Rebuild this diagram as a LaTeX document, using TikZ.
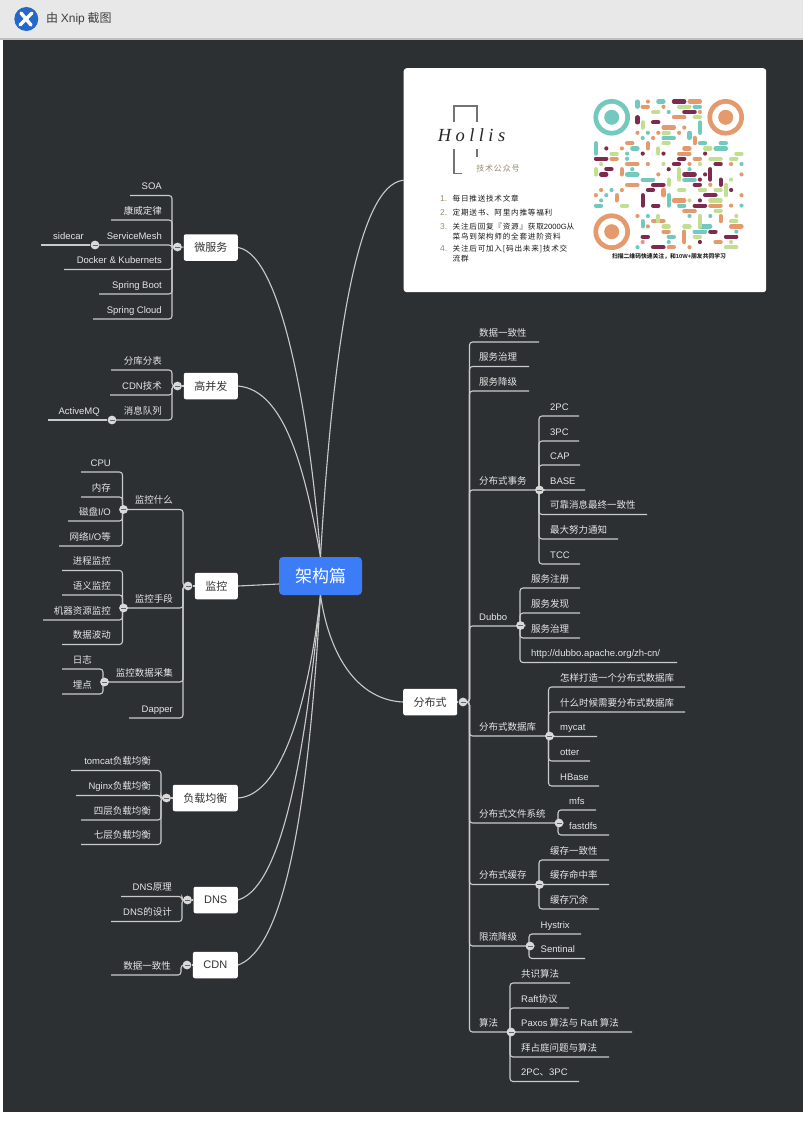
\documentclass[tikz,border=0pt]{standalone}
\usepackage{fontspec}
\setmainfont{Noto Sans CJK SC}
\newfontfamily\latfont{Liberation Sans}
\newfontfamily\logofont[LetterSpace=24]{Liberation Serif}
\newfontfamily\cardfont[LetterSpace=10]{Noto Sans CJK SC}
\newcommand{\la}[1]{{\latfont #1}}
\definecolor{boardbg}{HTML}{2D3033}
\definecolor{barbg}{HTML}{E8E8E8}
\definecolor{linkgray}{HTML}{C9CACA}
\definecolor{hubblue}{HTML}{3C7DF7}
\definecolor{xnipblue}{HTML}{2468CC}
\definecolor{qrteal}{HTML}{74C9BE}
\definecolor{qrorange}{HTML}{E59A6E}
\definecolor{qrmaroon}{HTML}{7D2A4E}
\definecolor{qrlime}{HTML}{C2DE92}
\definecolor{logotan}{HTML}{9A8A70}
\pgfdeclarelayer{back}
\pgfdeclarelayer{links}
\pgfsetlayers{back,links,main}
\tikzset{
  link/.style={draw=linkgray,line width=1.1pt,rounded corners=3pt},
  curvelink/.style={draw=linkgray,line width=1.1pt},
  topicbox/.style={fill=white,rounded corners=2pt,text=black!80,font=\fontsize{11}{13}\selectfont,
    minimum height=26.5pt,inner xsep=10.5pt,inner ysep=0pt},
  hubbox/.style={fill=hubblue,rounded corners=4pt,text=white,font=\fontsize{17}{20}\selectfont,
    minimum width=83pt,minimum height=38pt},
  cardbox/.style={fill=white,rounded corners=3pt,anchor=north west,minimum width=362.5pt,minimum height=224pt},
  leaf/.style={text=white!90!black,inner sep=0pt,font=\fontsize{9.5}{11}\selectfont},
  dotnode/.style={circle,fill=white!85!black,inner sep=0pt,minimum size=8.8pt,
    font=\fontsize{5}{5}\selectfont},
  carditem/.style={inner sep=0pt,anchor=base west,text=black!90,font=\cardfont\fontsize{7.6}{10}\selectfont},
  cardnum/.style={inner sep=0pt,anchor=base west,text=logotan,font=\latfont\fontsize{8.5}{10}\selectfont},
  logoline/.style={draw=black!55,line width=1.2pt},
  qrt/.style={draw=qrteal,line width=4.2pt,line cap=round},
  qro/.style={draw=qrorange,line width=4.2pt,line cap=round},
  qrm/.style={draw=qrmaroon,line width=4.2pt,line cap=round},
  qrl/.style={draw=qrlime,line width=4.2pt,line cap=round}
}
\newcommand{\minus}{\textcolor{black!60}{\rule{5pt}{1pt}}}
\newcommand{\leavesL}[5]{%
  \foreach \ly/\lx/\lab [count=\i] in {#5} {
    \node[leaf,anchor=base east] (#1\i) at (#4,\ly-6) {\lab};
    \coordinate (#1e\i) at (\lx,\ly);
    \begin{pgfonlayer}{links}
      \draw[link] (#2.center) -| (#3,\ly) -- (#1e\i);
    \end{pgfonlayer}
  }}
\newcommand{\leavesR}[5]{%
  \foreach \ly/\lx/\lab [count=\i] in {#5} {
    \node[leaf,anchor=base west] (#1\i) at (#4,\ly-6) {\lab};
    \coordinate (#1e\i) at (\lx,\ly);
    \begin{pgfonlayer}{links}
      \draw[link] (#2.center) -| (#3,\ly) -- (#1e\i);
    \end{pgfonlayer}
  }}
\newcommand{\qrh}[2]{\foreach \c/\r/\n in {#2} \draw[#1] (\c+.5,\r+.5) -- ++(\n,0);}
\newcommand{\qrv}[2]{\foreach \c/\r/\n in {#2} \draw[#1] (\c+.5,\r+.5) -- ++(0,\n);}
\newcommand{\qrd}[2]{\foreach \c/\r in {#2} \fill[#1] (\c+.5,\r+.5) circle (2.1pt);}
\begin{document}
\begin{tikzpicture}[x=1pt,y=-1pt]
\useasboundingbox (0,0) rectangle (803,1145);
\begin{pgfonlayer}{back}
\fill[white] (0,0) rectangle (803,1145);
\fill[barbg] (0,0) rectangle (803,38);
\fill[black!25] (0,38) rectangle (803,40);
\fill[boardbg] (3,40) rectangle (803,1112);
\fill[xnipblue] (26.3,19) circle (12pt);
\draw[white,line width=3.4pt,line cap=round] (21,13) -- (31,25);
\draw[white,line width=3.4pt,line cap=round] (32,13) -- (20,25);
\end{pgfonlayer}
\node[inner sep=0pt,anchor=west,text=black!75,font=\fontsize{12}{14}\selectfont] (bartitle) at (46,19) {由 \la{Xnip} 截图};

\node[hubbox] (hub) at (320.5,576) {架构篇};
\node[topicbox,anchor=east] (wei) at (238,247.5) {微服务};
\node[topicbox,anchor=east] (gao) at (238,386) {高并发};
\node[topicbox,anchor=east] (jian) at (238,586) {监控};
\node[topicbox,anchor=east] (fuzai) at (238,798) {负载均衡};
\node[topicbox,anchor=east] (dns) at (238,900) {\la{DNS}};
\node[topicbox,anchor=east] (cdn) at (238,965) {\la{CDN}};
\node[topicbox,anchor=west] (fen) at (403,702) {分布式};
\node[cardbox] (card) at (403.5,68) {};

\begin{pgfonlayer}{links}
\draw[curvelink] (wei.east) .. controls (285,255) and (312,440) .. (hub.north);
\draw[curvelink] (gao.east) .. controls (285,390) and (305,470) .. (hub.north);
\draw[curvelink] (card.west) .. controls (355,185) and (332,360) .. (hub.north);
\draw[curvelink] (jian.east) -- ([yshift=-8pt]hub.west);
\draw[curvelink] (fuzai.east) .. controls (285,795) and (310,690) .. (hub.south);
\draw[curvelink] (dns.east) .. controls (290,885) and (310,700) .. (hub.south);
\draw[curvelink] (cdn.east) .. controls (295,945) and (312,740) .. (hub.south);
\draw[curvelink] (fen.west) .. controls (360,700) and (330,660) .. (hub.south);
\end{pgfonlayer}

\node[dotnode] (weidot) at (177.5,247) {\minus};
\node[dotnode] (gaodot) at (177.5,386) {\minus};
\node[dotnode] (jiandot) at (188,586) {\minus};
\node[dotnode] (fuzaidot) at (166.5,798) {\minus};
\node[dotnode] (dnsdot) at (187.5,900) {\minus};
\node[dotnode] (cdndot) at (187,965) {\minus};
\node[dotnode] (fendot) at (463,702) {\minus};
\node[dotnode] (meshdot) at (95,245) {\minus};
\node[dotnode] (mqdot) at (112,420) {\minus};
\node[dotnode] (whatdot) at (123.5,509.5) {\minus};
\node[dotnode] (howdot) at (123.5,608) {\minus};
\node[dotnode] (caijidot) at (104.5,682) {\minus};
\node[dotnode] (txdot) at (539.5,490) {\minus};
\node[dotnode] (dubbodot) at (520.5,625.5) {\minus};
\node[dotnode] (dbdot) at (549.5,736) {\minus};
\node[dotnode] (fsdot) at (559,823) {\minus};
\node[dotnode] (cachedot) at (539.5,884.5) {\minus};
\node[dotnode] (limitdot) at (530,946) {\minus};
\node[dotnode] (algodot) at (511,1032) {\minus};

\begin{pgfonlayer}{links}
\foreach \boxname in {wei,gao,jian,fuzai,dns,cdn,fen}
  \draw[curvelink] (\boxname) -- (\boxname dot);
\end{pgfonlayer}

\leavesL{wl}{weidot}{172}{162}{195.5/130/{\la{SOA}},220/111/康威定律,245/95/{\la{ServiceMesh}},
  269.5/64/{\la{Docker \& Kubernets}},294/99/{\la{Spring Boot}},319/93/{\la{Spring Cloud}}}
\leavesL{gl}{gaodot}{172}{162}{370/111/分库分表,395/110/{\la{CDN}技术},420/112/消息队列}
\leavesL{jl}{jiandot}{183}{173}{509.5/123.5/监控什么,608/123.5/监控手段,682/104.5/监控数据采集,718/129/{\la{Dapper}}}
\leavesL{wh}{whatdot}{122.5}{111}{472/81/{\la{CPU}},497/81/内存,521/68/{磁盘\la{I/O}},546/59/{网络\la{I/O}等}}
\leavesL{ho}{howdot}{122.5}{111}{570.5/62/进程监控,595/62/语义监控,620/43/机器资源监控,644.5/62/数据波动}
\leavesL{cj}{caijidot}{103}{92}{669/62/日志,694/62/埋点}
\leavesL{fz}{fuzaidot}{161}{151}{770.5/71/{\la{tomcat}负载均衡},795.5/76/{\la{Nginx}负载均衡},820/81/四层负载均衡,844.5/81/七层负载均衡}
\leavesL{dn}{dnsdot}{182}{172}{896.5/121/{\la{DNS}原理},921.5/111/{\la{DNS}的设计}}
\leavesL{cd}{cdndot}{181}{171}{975/111/数据一致性}

\node[leaf,anchor=base east] (sidecar) at (84,239) {\la{sidecar}};
\coordinate (sidecare) at (41,245);
\node[leaf,anchor=base east] (activemq) at (100,414) {\la{ActiveMQ}};
\coordinate (activemqe) at (48,420);
\begin{pgfonlayer}{links}
\draw[link] (meshdot) -- (sidecare);
\draw[link] (mqdot) -- (activemqe);
\end{pgfonlayer}

\leavesR{fl}{fendot}{469.5}{479}{342/539/数据一致性,366.5/529/服务治理,391/529/服务降级,490/539.5/分布式事务,
  626/520.5/{\la{Dubbo}},736/549.5/分布式数据库,823/559/分布式文件系统,884.5/539.5/分布式缓存,946/530/限流降级,1032/511/算法}
\leavesR{tx}{txdot}{539}{550}{416/579/{\la{2PC}},441/579/{\la{3PC}},465/580/{\la{CAP}},490/585/{\la{BASE}},
  514.5/647/可靠消息最终一致性,539/618/最大努力通知,564/580/{\la{TCC}}}
\leavesR{du}{dubbodot}{520}{531}{588/580/服务注册,613/580/服务发现,638/580/服务治理,662.5/677/{\la{http://dubbo.apache.org/zh-cn/}}}
\leavesR{db}{dbdot}{548.5}{560}{687/685/怎样打造一个分布式数据库,712/685/什么时候需要分布式数据库,736.5/597/{\la{mycat}},761/590/{\la{otter}},786/599/{\la{HBase}}}
\leavesR{fs}{fsdot}{558}{569}{810/596/{\la{mfs}},835/609/{\la{fastdfs}}}
\leavesR{ca}{cachedot}{539}{550}{860/609/缓存一致性,884.5/609/缓存命中率,909/599/缓存冗余}
\leavesR{li}{limitdot}{529}{540.5}{934/581/{\la{Hystrix}},958.5/585/{\la{Sentinal}}}
\leavesR{al}{algodot}{510}{521}{983/570/共识算法,1008/569/{\la{Raft}协议},1032/632/{\la{Paxos} 算法与 \la{Raft} 算法},1057/609/拜占庭问题与算法,1081.5/579/{\la{2PC}、\la{3PC}}}

\draw[logoline] (454,122.5) -- (454,106) -- (477,106) -- (477,122.5);
\draw[logoline] (454,149) -- (454,173.5) -- (462,173.5);
\draw[logoline] (477,149) -- (477,157);
\node[inner sep=0pt,text=black!85,font=\logofont\itshape\fontsize{18.5}{20}\selectfont] (hollis) at (471.5,135) {Hollis};
\node[inner sep=0pt,text=logotan,font=\cardfont\itshape\fontsize{8}{10}\selectfont] (gzh) at (498,168) {技术公众号};

\node[cardnum] (n1) at (440,201) {1.};
\node[carditem] (t1) at (452.5,201) {每日推送技术文章};
\node[cardnum] (n2) at (440,215.5) {2.};
\node[carditem] (t2) at (452.5,215.5) {定期送书、阿里内推等福利};
\node[cardnum] (n3) at (440,229) {3.};
\node[carditem] (t3) at (452.5,229) {关注后回复『资源』获取\la{2000G}从};
\node[carditem] (t3b) at (452.5,239) {菜鸟到架构师的全套进阶资料};
\node[cardnum] (n4) at (440,251.5) {4.};
\node[carditem] (t4) at (452.5,251.5) {关注后可加入[码出未来]技术交};
\node[carditem] (t4b) at (452.5,261.5) {流群};

\foreach \qx/\qy/\qc in {611.7/117.3/qrteal,725.7/117.3/qrorange,611.7/231.7/qrorange} {
  \fill[\qc] (\qx,\qy) circle (18.3pt);
  \fill[white] (\qx,\qy) circle (13.5pt);
  \fill[\qc] (\qx,\qy) circle (7.5pt);
}
\begin{scope}[shift={(593.3,99)},x=5.2pt,y=-5.2pt]
\qrh{qrt}{12/0/1,19/1/1,20/8/1,24/8/1,7/9/1,23/9/2,6/14/2,9/15/2,17/15/2,16/20/1,0/20/1,13/7/2,20/24/2,19/25/2,14/26/1}
\qrv{qrt}{8/0/1,20/4/2,18/6/1,0/8/2,14/18/2,9/23/1}
\qrd{qrteal}{14/2,10/6,9/7,6/10,6/11,7/13,1/19,3/17,2/18,28/12,18/13,10/22,18/22,22/22,27/25,14/27,8/28,28/20}
\qrh{qro}{18/0/2,9/1/1,15/3/2,13/5/2,6/8/1,17/9/1,16/10/2,3/11/1,19/11/1,6/12/2,6/16/2,15/19/2,22/20/2,17/21/2,11/23/2,26/24/2,13/25/1,23/27/1,14/28/1}
\qrv{qro}{19/7/1,10/8/1,5/13/1,13/17/1,4/18/1,24/22/1,17/25/2}
\qrd{qrorange}{10/0,13/1,20/2,17/5,16/6,8/6,12/6,11/7,5/9,10/12,18/12,26/12,28/14,12/14,22/16,1/17,5/17,0/18,28/18,26/20,8/22,10/24,18/28,9/27}
\qrh{qrm}{15/0/2,17/2/2,11/4/1,16/11/1,0/11/2,15/12/1,23/12/1,2/13/1,1/14/1,17/14/2,11/16/2,19/16/1,10/17/1,21/18/2,11/20/1,19/20/2,22/25/1,9/26/1,25/26/2,11/28/2}
\qrv{qrm}{8/3/1,22/13/2,24/15/1,9/18/2}
\qrd{qrmaroon}{2/9,9/10,13/10,21/10,14/13,21/14,20/15,26/17,20/19,20/27}
\qrh{qrl}{16/1/2,11/2/1,19/3/1,13/6/1,13/8/1,21/9/1,3/10/1,27/10/1,22/11/2,26/11/1,16/17/1,20/17/1,23/17/1,22/19/2,5/20/1,23/21/1,26/23/1,13/24/1,17/24/1,19/26/1,25/28/2}
\qrv{qrl}{9/4/1,12/9/1,0/13/1,16/13/2,14/15/1,25/16/2,12/22/1,20/22/2}
\qrd{qrlime}{1/12,13/12,20/12,18/19,26/15,27/22,26/27}
\end{scope}
\node[inner sep=0pt,text=black!85,font=\fontsize{5.8}{6}\selectfont\bfseries] (scan) at (669,256.8) {扫描二维码快速关注，和\la{10W+}朋友共同学习};
\end{tikzpicture}
\end{document}
